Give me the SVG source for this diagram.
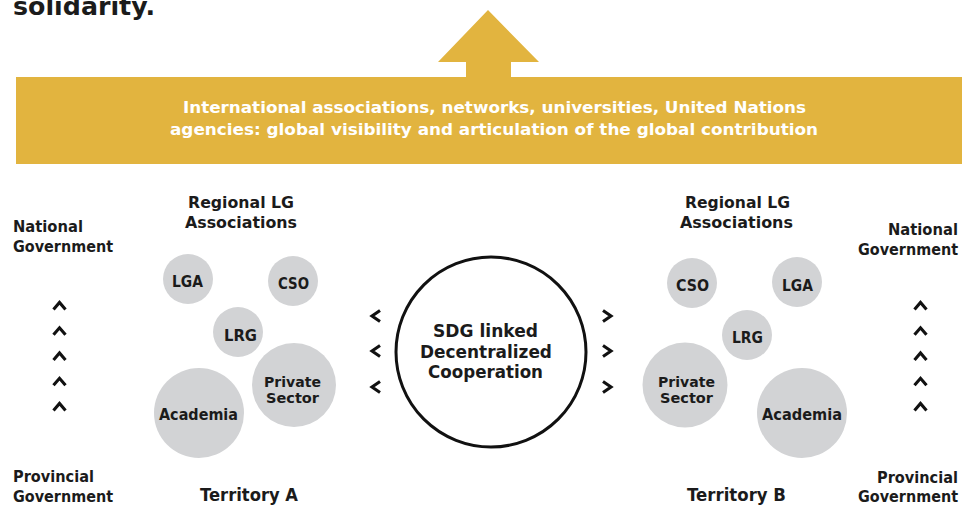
<svg xmlns="http://www.w3.org/2000/svg" width="970" height="522" viewBox="0 0 970 522">
<style>
text{font-family:"DejaVu Sans","Liberation Sans",sans-serif;font-weight:bold;fill:#1b1b1b}
.lbl{font-size:15px}
.hd{font-size:16px}
.ter{font-size:18px}
.ctr{font-size:17px;text-anchor:middle}
.ban{font-size:16px;fill:#ffffff;text-anchor:middle}
.bub{fill:#d2d3d5}
.bt{font-size:15px;text-anchor:middle}
.bt2{font-size:14px;text-anchor:middle}
.chev{fill:none;stroke:#111;stroke-width:3.1;stroke-linecap:butt;stroke-linejoin:miter}
</style>
<rect width="970" height="522" fill="#ffffff"/>
<g id="title"><text x="13" y="15" font-size="25" textLength="142" lengthAdjust="spacingAndGlyphs">solidarity.</text></g>
<g id="banner">
<polygon points="488,10 539,62 511,62 511,78 466,78 466,62 438,62" fill="#e2b43f"/>
<rect x="16" y="77" width="946" height="87" fill="#e2b43f"/>
<text class="ban" x="494.5" y="113" textLength="623" lengthAdjust="spacingAndGlyphs">International associations, networks, universities, United Nations</text>
<text class="ban" x="494" y="135" textLength="648" lengthAdjust="spacingAndGlyphs">agencies: global visibility and articulation of the global contribution</text>
</g>
<g id="left-national"><text class="lbl" x="13" y="232" textLength="70" lengthAdjust="spacingAndGlyphs">National</text><text class="lbl" x="13" y="252" textLength="100" lengthAdjust="spacingAndGlyphs">Government</text></g>
<g id="left-provincial"><text class="lbl" x="13" y="482" textLength="81" lengthAdjust="spacingAndGlyphs">Provincial</text><text class="lbl" x="13" y="502" textLength="100" lengthAdjust="spacingAndGlyphs">Government</text></g>
<g id="left-regional"><text class="hd" x="188" y="208" textLength="106" lengthAdjust="spacingAndGlyphs">Regional LG</text><text class="hd" x="185" y="228" textLength="112" lengthAdjust="spacingAndGlyphs">Associations</text></g>
<g id="territory-a"><text class="ter" x="200" y="501" textLength="98" lengthAdjust="spacingAndGlyphs">Territory A</text></g>
<g id="a-lga"><circle class="bub" cx="188" cy="279" r="25"/><text class="bt" x="187.5" y="287" textLength="31" lengthAdjust="spacingAndGlyphs">LGA</text></g>
<g id="a-cso"><circle class="bub" cx="293" cy="281" r="25"/><text class="bt" x="293.5" y="289" textLength="31" lengthAdjust="spacingAndGlyphs">CSO</text></g>
<g id="a-lrg"><circle class="bub" cx="238" cy="332" r="25"/><text class="bt" x="240.5" y="341" textLength="33" lengthAdjust="spacingAndGlyphs">LRG</text></g>
<g id="a-private"><circle class="bub" cx="294" cy="385" r="42"/><text class="bt2" x="292.5" y="386.5" textLength="57" lengthAdjust="spacingAndGlyphs">Private</text><text class="bt2" x="292.5" y="403" textLength="53" lengthAdjust="spacingAndGlyphs">Sector</text></g>
<g id="a-academia"><circle class="bub" cx="199" cy="413" r="45"/><text class="bt" x="198.5" y="420" textLength="79" lengthAdjust="spacingAndGlyphs">Academia</text></g>
<g id="center"><circle cx="491" cy="352" r="95" fill="#ffffff" stroke="#111" stroke-width="3"/>
<text class="ctr" x="485.5" y="337" textLength="105" lengthAdjust="spacingAndGlyphs">SDG linked</text>
<text class="ctr" x="486" y="358" textLength="132" lengthAdjust="spacingAndGlyphs">Decentralized</text>
<text class="ctr" x="485.5" y="378" textLength="115" lengthAdjust="spacingAndGlyphs">Cooperation</text></g>
<g id="right-regional"><text class="hd" x="685" y="208" textLength="105" lengthAdjust="spacingAndGlyphs">Regional LG</text><text class="hd" x="680" y="228" textLength="113" lengthAdjust="spacingAndGlyphs">Associations</text></g>
<g id="right-national"><text class="lbl" x="958" y="235" text-anchor="end" textLength="70" lengthAdjust="spacingAndGlyphs">National</text><text class="lbl" x="958" y="255" text-anchor="end" textLength="100" lengthAdjust="spacingAndGlyphs">Government</text></g>
<g id="right-provincial"><text class="lbl" x="958" y="483" text-anchor="end" textLength="81" lengthAdjust="spacingAndGlyphs">Provincial</text><text class="lbl" x="958" y="502" text-anchor="end" textLength="100" lengthAdjust="spacingAndGlyphs">Government</text></g>
<g id="territory-b"><text class="ter" x="687" y="501" textLength="99" lengthAdjust="spacingAndGlyphs">Territory B</text></g>
<g id="b-cso"><circle class="bub" cx="692" cy="283" r="25"/><text class="bt" x="692.5" y="291" textLength="33" lengthAdjust="spacingAndGlyphs">CSO</text></g>
<g id="b-lga"><circle class="bub" cx="797" cy="282" r="25"/><text class="bt" x="797.5" y="291" textLength="31" lengthAdjust="spacingAndGlyphs">LGA</text></g>
<g id="b-lrg"><circle class="bub" cx="747" cy="335" r="25"/><text class="bt" x="747.5" y="343" textLength="31" lengthAdjust="spacingAndGlyphs">LRG</text></g>
<g id="b-private"><circle class="bub" cx="685" cy="385" r="42.5"/><text class="bt2" x="686.5" y="386.5" textLength="57" lengthAdjust="spacingAndGlyphs">Private</text><text class="bt2" x="686.5" y="403" textLength="53" lengthAdjust="spacingAndGlyphs">Sector</text></g>
<g id="b-academia"><circle class="bub" cx="802" cy="413" r="45"/><text class="bt" x="802" y="420" textLength="80" lengthAdjust="spacingAndGlyphs">Academia</text></g>
<g id="connectors">
<path class="chev" d="M380,310.5 L372,316 L380,321.5 M380,345.5 L372,351 L380,356.5 M380,381.5 L372,387 L380,392.5"/>
<path class="chev" d="M603,310.5 L611,316 L603,321.5 M603,345.5 L611,351 L603,356.5 M603,381.5 L611,387 L603,392.5"/>
<path class="chev" d="M53.5,309.5 L59.5,302.5 L65.5,309.5 M53.5,334.8 L59.5,327.8 L65.5,334.8 M53.5,360 L59.5,353 L65.5,360 M53.5,385.3 L59.5,378.3 L65.5,385.3 M53.5,410.5 L59.5,403.5 L65.5,410.5"/>
<path class="chev" d="M914.5,309.5 L920.5,302.5 L926.5,309.5 M914.5,334.8 L920.5,327.8 L926.5,334.8 M914.5,360 L920.5,353 L926.5,360 M914.5,385.3 L920.5,378.3 L926.5,385.3 M914.5,410.5 L920.5,403.5 L926.5,410.5"/>
</g>
</svg>
